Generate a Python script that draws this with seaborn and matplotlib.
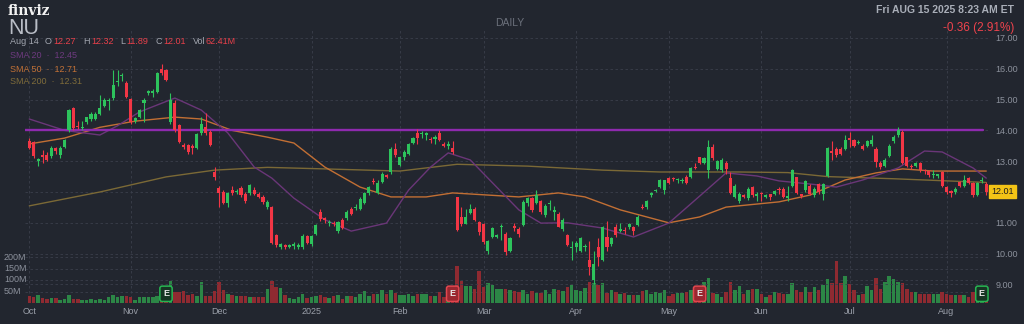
import matplotlib
matplotlib.use("Agg")
import matplotlib.pyplot as plt
import matplotlib.transforms as mtrans
import numpy as np
import pandas as pd
import seaborn as sns

# ---------------- data ----------------
opens = [13.65, 13.62, 13.02, 13.20, 13.20, 13.17, 13.43, 13.20, 13.46, 14.00,
         14.73, 14.15, 14.08, 14.27, 14.37, 14.37, 14.53, 14.80, 14.95, 15.05,
         15.58, 15.75, 15.54, 15.02, 14.30, 14.45, 14.90, 15.22, 15.22, 15.25,
         16.00, 15.96, 14.27, 14.90, 14.17, 13.52, 13.52, 13.50, 13.43, 13.90,
         14.10, 13.95, 12.65, 12.13, 12.00, 11.64, 12.05, 12.00, 12.13, 11.95,
         11.97, 12.05, 11.92, 11.85, 11.50, 11.50, 10.60, 10.20, 10.28, 10.22,
         10.25, 10.22, 10.20, 10.57, 10.30, 10.64, 11.35, 11.15, 11.00, 11.00,
         10.73, 11.10, 11.15, 11.45, 11.48, 11.45, 11.64, 11.97, 12.37, 11.97,
         12.32, 12.55, 12.65, 13.40, 12.88, 13.13, 13.22, 13.60, 13.90, 13.88,
         13.85, 13.72, 13.72, 13.90, 13.55, 13.50, 13.43, 11.83, 11.20, 10.97,
         11.32, 11.45, 11.03, 10.96, 10.10, 10.54, 10.55, 10.85, 10.64, 10.10,
         10.90, 10.80, 10.93, 11.65, 11.80, 11.65, 11.70, 11.25, 11.60, 11.35,
         11.30, 10.80, 10.60, 10.18, 10.20, 10.10, 10.20, 9.80, 9.15, 10.20,
         9.80, 10.54, 10.30, 10.85, 10.75, 10.78, 10.85, 10.85, 10.93, 11.52,
         11.50, 11.90, 12.03, 12.16, 12.05, 12.45, 12.45, 12.38, 12.35, 12.50,
         12.49, 12.82, 13.13, 12.95, 12.70, 13.46, 12.75, 12.70, 12.95, 12.45,
         11.85, 11.70, 11.90, 11.80, 12.15, 11.88, 11.97, 11.85, 11.92, 11.95,
         12.10, 12.10, 11.82, 12.20, 12.49, 11.92, 12.05, 12.20, 11.90, 12.25,
         11.95, 12.52, 13.32, 13.40, 13.40, 13.40, 13.75, 13.70, 13.60, 13.50,
         13.50, 13.55, 13.40, 12.95, 12.85, 13.17, 13.65, 13.85, 13.95, 13.13,
         12.85, 12.85, 12.95, 12.72, 12.68, 12.55, 12.52, 12.65, 12.16, 12.02,
         12.00, 12.32, 12.20, 12.45, 12.30, 11.90, 12.35, 12.27]
highs = [13.75, 13.65, 13.10, 13.35, 13.30, 13.50, 13.45, 13.48, 13.72, 14.70,
         14.75, 14.30, 14.30, 14.45, 14.60, 14.60, 15.15, 15.05, 15.05, 15.96,
         15.96, 15.85, 15.60, 15.05, 14.45, 14.70, 15.05, 15.32, 15.35, 15.90,
         16.15, 16.00, 15.20, 15.00, 14.20, 13.60, 13.55, 13.55, 13.90, 14.45,
         14.55, 14.00, 12.80, 12.20, 12.05, 12.00, 12.20, 12.10, 12.20, 12.00,
         12.25, 12.15, 12.00, 11.90, 11.75, 11.55, 10.65, 10.35, 10.30, 10.32,
         10.38, 10.35, 10.65, 10.60, 10.60, 10.95, 11.45, 11.20, 11.10, 11.05,
         11.05, 11.15, 11.40, 11.50, 11.60, 11.85, 12.00, 12.20, 12.45, 12.38,
         12.65, 12.60, 13.45, 13.60, 13.15, 13.35, 13.60, 13.80, 14.05, 13.98,
         13.95, 13.80, 13.85, 14.00, 13.62, 13.65, 13.65, 11.85, 11.50, 11.45,
         11.60, 11.50, 11.05, 11.00, 10.45, 10.85, 10.65, 10.95, 10.70, 10.55,
         11.00, 10.85, 11.75, 11.85, 11.85, 12.05, 11.75, 11.60, 11.75, 11.55,
         11.35, 11.15, 10.65, 10.40, 10.40, 10.55, 10.30, 10.40, 10.10, 10.50,
         10.90, 11.05, 10.55, 10.95, 11.00, 10.85, 11.00, 10.90, 11.25, 11.60,
         11.75, 12.00, 12.10, 12.42, 12.40, 12.50, 12.50, 12.47, 12.45, 12.55,
         12.80, 12.95, 13.15, 13.15, 13.70, 13.55, 13.05, 13.10, 13.00, 12.65,
         12.25, 12.00, 11.95, 12.15, 12.20, 12.00, 12.00, 11.95, 11.95, 12.08,
         12.15, 12.15, 12.20, 12.75, 12.50, 11.95, 12.40, 12.25, 12.15, 12.30,
         12.30, 13.45, 13.65, 13.45, 13.45, 13.85, 13.95, 13.72, 13.68, 13.55,
         13.70, 13.85, 13.45, 13.00, 13.10, 13.55, 13.85, 14.10, 14.00, 13.15,
         12.90, 12.97, 12.97, 12.75, 12.70, 12.70, 12.60, 12.68, 12.20, 12.05,
         12.15, 12.35, 12.55, 12.50, 12.32, 12.32, 12.48, 12.32]
lows = [13.40, 13.10, 12.85, 12.95, 13.00, 13.10, 13.25, 13.10, 13.42, 13.95,
        14.00, 14.05, 14.00, 14.20, 14.30, 14.35, 14.50, 14.75, 14.65, 15.00,
        15.45, 15.60, 15.05, 14.20, 14.25, 14.40, 14.27, 15.15, 15.10, 15.20,
        15.80, 15.60, 14.20, 13.95, 13.60, 13.40, 13.25, 13.25, 13.40, 13.85,
        13.85, 13.50, 12.40, 11.50, 11.60, 11.50, 11.90, 11.95, 11.85, 11.65,
        11.90, 11.90, 11.80, 11.60, 11.45, 10.30, 10.20, 10.15, 10.15, 10.18,
        10.15, 10.15, 10.15, 10.30, 10.25, 10.60, 11.05, 11.00, 10.90, 10.90,
        10.68, 10.80, 11.10, 11.25, 11.40, 11.40, 11.60, 11.90, 12.25, 11.95,
        12.30, 12.45, 12.60, 13.15, 12.85, 13.05, 13.20, 13.55, 13.55, 13.75,
        13.70, 13.60, 13.55, 13.65, 13.45, 13.40, 13.25, 10.75, 10.90, 10.95,
        11.30, 11.05, 10.60, 10.30, 10.00, 10.50, 10.50, 10.45, 9.95, 10.05,
        10.75, 10.55, 10.90, 11.55, 11.35, 11.60, 11.30, 11.20, 11.40, 11.10,
        10.85, 10.75, 10.25, 9.80, 10.05, 10.05, 10.10, 9.30, 9.00, 9.60,
        9.75, 10.10, 10.25, 10.55, 10.70, 10.65, 10.80, 10.60, 10.90, 11.45,
        11.45, 11.85, 12.00, 12.12, 11.95, 12.25, 12.35, 12.30, 12.30, 12.25,
        12.45, 12.75, 12.90, 12.90, 12.45, 13.05, 12.70, 12.65, 12.60, 11.95,
        11.80, 11.65, 11.80, 11.75, 11.85, 11.70, 11.70, 11.80, 11.75, 11.90,
        11.95, 11.80, 11.70, 12.15, 11.95, 11.80, 12.00, 11.90, 11.85, 11.95,
        11.75, 12.50, 13.05, 13.15, 13.20, 13.35, 13.45, 13.45, 13.55, 13.35,
        13.45, 13.50, 12.80, 12.75, 12.80, 13.15, 13.60, 13.80, 12.90, 12.80,
        12.75, 12.80, 12.65, 12.60, 12.50, 12.45, 12.45, 12.15, 11.95, 11.85,
        11.95, 12.15, 12.15, 12.25, 11.85, 11.88, 12.30, 11.89]
closes = [13.43, 13.17, 13.06, 13.15, 13.05, 13.43, 13.32, 13.43, 13.70, 14.66,
          14.08, 14.10, 14.12, 14.43, 14.53, 14.53, 14.73, 15.00, 15.00, 15.47,
          15.62, 15.80, 15.08, 14.27, 14.40, 14.66, 15.00, 15.27, 15.27, 15.86,
          15.86, 15.63, 15.00, 14.00, 13.62, 13.47, 13.30, 13.42, 13.88, 14.20,
          13.90, 13.52, 12.49, 11.97, 11.64, 11.97, 11.98, 12.03, 11.90, 11.70,
          12.22, 11.95, 11.85, 11.68, 11.68, 10.34, 10.28, 10.30, 10.22, 10.27,
          10.30, 10.27, 10.57, 10.35, 10.57, 10.93, 11.12, 11.10, 11.03, 10.96,
          11.03, 10.84, 11.35, 11.30, 11.52, 11.77, 11.97, 12.16, 12.32, 12.30,
          12.60, 12.50, 13.40, 13.20, 13.13, 13.30, 13.55, 13.75, 13.75, 13.92,
          13.90, 13.68, 13.80, 13.70, 13.50, 13.55, 13.30, 10.77, 10.96, 11.20,
          11.45, 11.10, 10.70, 10.37, 10.40, 10.83, 10.60, 10.88, 10.05, 10.50,
          10.83, 10.65, 11.68, 11.80, 11.40, 11.90, 11.35, 11.55, 11.65, 11.40,
          10.87, 11.10, 10.28, 10.22, 10.35, 10.50, 10.25, 9.57, 9.66, 9.90,
          10.86, 10.20, 10.50, 10.60, 10.80, 10.72, 10.97, 10.75, 11.20, 11.48,
          11.70, 11.97, 12.07, 12.39, 12.39, 12.30, 12.42, 12.42, 12.40, 12.30,
          12.78, 12.78, 12.95, 13.10, 13.46, 13.10, 13.00, 13.05, 12.75, 11.97,
          12.20, 11.95, 11.85, 12.10, 11.90, 11.92, 11.92, 11.90, 11.85, 12.02,
          12.05, 11.85, 11.87, 12.71, 11.97, 11.87, 12.35, 11.95, 12.10, 12.00,
          12.25, 13.43, 13.28, 13.20, 13.25, 13.70, 13.70, 13.50, 13.63, 13.40,
          13.65, 13.70, 12.98, 12.80, 13.05, 13.50, 13.78, 14.00, 12.95, 12.85,
          12.80, 12.95, 12.70, 12.68, 12.55, 12.60, 12.57, 12.20, 12.00, 11.98,
          12.10, 12.20, 12.40, 12.30, 11.90, 12.30, 12.40, 12.01]
volumes_m = [30, 26, 34, 23, 19, 23, 23, 12, 19, 33, 19, 19, 12, 15, 19, 12, 19, 12, 26, 34, 26, 30, 30,
             26, 15, 26, 26, 26, 26, 30, 30, 33,
             97, 48, 48, 52, 33, 41, 30, 92, 30, 30, 52, 92, 55, 41, 33, 30, 30, 30, 26, 26, 26, 26,
             60, 97, 70, 67, 33, 23, 19, 26, 41, 23, 26, 30, 33, 26, 22, 30, 33, 19, 30, 30, 26, 37,
             52, 30, 38, 41, 55, 37, 55, 44, 33, 33, 38, 30, 37, 41, 41, 30, 30, 48, 26, 30, 35,
             159, 95, 73, 73, 60, 137, 70, 85, 77, 60, 60, 63, 55, 52, 48, 55, 37, 52, 44, 44, 55, 41,
             60, 55, 52, 70, 80, 55, 52, 67, 92, 85, 77, 85, 44, 55, 48,
             41, 44, 34, 34, 34, 52, 55, 41, 48, 44, 55,
             30, 41, 44, 44, 48, 55, 37, 41, 92, 110, 44, 37, 26, 48, 91, 55, 73, 37, 55, 60, 60, 41,
             26, 34, 48, 44, 41, 41, 85, 55, 48, 70, 48, 70, 58, 80, 103, 85, 181, 88, 117, 82, 58, 34,
             41, 73, 55, 107, 63, 92, 118, 103, 92, 88, 63, 48, 48, 37, 41, 37, 41, 37, 48, 41, 34, 33,
             33, 33, 26, 48, 37, 33, 62]

month_idx = [0, 23, 43, 64, 84, 103, 124, 145, 166, 186, 208]
month_labels = ["Oct", "Nov", "Dec", "2025", "Feb", "Mar", "Apr", "May", "Jun", "Jul", "Aug"]
price_ticks = [9, 10, 11, 12, 13, 14, 15, 16, 17]
vol_ticks = [50, 100, 150, 200]
vol_tick_labels = ["50M", "100M", "150M", "200M"]

sma20_idx = [0, 8, 16, 20, 25, 33, 39, 45, 51, 55, 60, 67, 73, 81, 86, 91, 95, 100, 104, 111,
             116, 122, 130, 137, 145, 151, 158, 165, 170, 177, 183, 189, 197, 203, 207, 214, 217]
sma20_val = [14.37, 14.0, 13.85, 14.15, 14.6, 15.05, 14.66, 13.92, 12.81, 12.45, 11.8, 11.1, 10.73,
             10.99, 12.06, 12.81, 13.27, 13.04, 12.45, 11.42, 10.99, 11.0, 10.83, 10.54, 10.99, 11.74,
             12.62, 12.52, 12.36, 12.26, 12.16, 12.39, 12.78, 13.33, 13.3, 12.78, 12.45]
sma50_idx = [0, 8, 16, 24, 33, 39, 46, 54, 60, 67, 75, 82, 90, 96, 111, 120, 126, 134, 145, 152,
             158, 170, 177, 185, 192, 198, 205, 217]
sma50_val = [13.56, 13.75, 14.1, 14.3, 14.43, 14.37, 14.0, 13.78, 13.59, 12.81, 12.16, 11.84, 11.84,
             11.97, 11.84, 11.97, 11.84, 11.42, 11.0, 11.19, 11.51, 11.68, 11.9, 12.39, 12.62, 12.75,
             12.68, 12.68]
sma200_idx = [0, 16, 31, 42, 54, 67, 84, 97, 113, 130, 143, 161, 172, 181, 196, 217]
sma200_val = [11.55, 12.0, 12.49, 12.71, 12.8, 12.75, 12.68, 12.9, 12.84, 12.71, 12.65, 12.65, 12.63,
              12.5, 12.43, 12.31]

resistance_level = 14.0
earnings_idx = [31, 96, 152, 216]
earnings_kind = ["up", "down", "down", "up"]

# ---------------- style ----------------
BG = "#22262f"
GRID = "#3a3f4b"
TXT = "#8c919c"
UP = "#2dc35c"
DOWN = "#f23645"
VUP = "#2c8646"
VDOWN = "#8f2a31"

sns.set_theme(style="dark", rc={
    "axes.facecolor": BG, "figure.facecolor": BG, "savefig.facecolor": BG,
    "axes.edgecolor": BG, "text.color": TXT, "xtick.color": TXT, "ytick.color": TXT,
})
plt.rcParams["font.family"] = ["Liberation Sans", "DejaVu Sans"]

W, H = 1024, 324
fig = plt.figure(figsize=(W / 100, H / 100), dpi=100)
L, R, T, B = 25, 990, 30, 303
ax = fig.add_axes([L / W, 1 - B / H, (R - L) / W, (B - T) / H])
ax2 = ax.twinx()
ax.set_zorder(ax2.get_zorder() + 1)
ax.patch.set_visible(False)
ax2.patch.set_facecolor(BG)

df = pd.DataFrame({"o": opens, "h": highs, "l": lows, "c": closes, "v": volumes_m})
df["i"] = np.arange(len(df))
up = df["c"] >= df["o"]

# price scale
px_per_dollar = 30.8
ax.set_ylim(17 - (B - 38) / px_per_dollar, 17 + (38 - T) / px_per_dollar)
step = 4.41
x0 = 29.3
ax.set_xlim((L - x0) / step, (R - x0) / step)

# volume scale
ax2.set_ylim(0, 200 * (B - T) / 46.0)
ax2.set_yticks([])
for v in vol_ticks:
    ax2.axhline(v, color=GRID, lw=0.6, ls=(0, (3, 3)), zorder=0)
for m in month_idx:
    ax2.axvline(m, color=GRID, lw=0.6, ls=(0, (3, 3)), zorder=0)
ax2.bar(df["i"], df["v"], width=0.8, color=np.where(up, VUP, VDOWN), zorder=1, linewidth=0)

# price grid
for p in price_ticks:
    ax.axhline(p, color=GRID, lw=0.6, ls=(0, (3, 3)), zorder=0)

# moving averages and resistance line
sns.lineplot(x=sma200_idx, y=sma200_val, ax=ax, color="#7b6936", lw=1.0, zorder=2, estimator=None)
sns.lineplot(x=sma50_idx, y=sma50_val, ax=ax, color="#c26f34", lw=1.0, zorder=2, estimator=None)
sns.lineplot(x=sma20_idx, y=sma20_val, ax=ax, color="#6a3678", lw=1.0, zorder=2, estimator=None)
ax.axhline(resistance_level, xmin=0, xmax=(983 - L) / (R - L), color="#8e2aae", lw=1.7, zorder=2)

# candles
ax.vlines(df["i"], df["l"], df["h"], colors=np.where(up, UP, DOWN), lw=0.8, zorder=3)
body_lo = np.minimum(df["o"], df["c"])
body_h = np.maximum(np.abs(df["c"] - df["o"]), 0.025)
ax.bar(df["i"], body_h, bottom=body_lo, width=0.7, color=np.where(up, UP, DOWN), zorder=4, linewidth=0)

# earnings markers
for ei, kind in zip(earnings_idx, earnings_kind):
    fc, ec = ("#173524", "#27b552") if kind == "up" else ("#9a2730", "#e2474f")
    ax2.text(ei, 40, "E", ha="center", va="center", fontsize=6.5, fontweight="bold",
             color="#e8e8e8", zorder=6,
             bbox=dict(boxstyle="round,pad=0.35,rounding_size=0.25", fc=fc, ec=ec, lw=1.1))

# axes ticks (the 12.00 label is hidden under the last-price tag in the reference)
ax.yaxis.tick_right()
ax.set_yticks(price_ticks)
ax.set_yticklabels(["" if p == 12 else f"{p:.2f}" for p in price_ticks], fontsize=6.5, color=TXT)
ax.set_xticks(month_idx)
ax.set_xticklabels(month_labels, fontsize=6.5, color="#9a9fa9")
ax.tick_params(axis="both", length=0, pad=3)
ax.tick_params(axis="y", pad=4)
ax.set_xlabel("")
ax.set_ylabel("")
for s in list(ax.spines.values()) + list(ax2.spines.values()):
    s.set_visible(False)
ax.grid(False)
ax2.grid(False)

# volume labels on the left
btr = mtrans.blended_transform_factory(fig.transFigure, ax2.transData)
for v, lab in zip(vol_ticks, vol_tick_labels):
    fig.text(4 / W, v, lab, transform=btr, fontsize=6.5, color=TXT, ha="left", va="center")

# last price tag
btr2 = mtrans.blended_transform_factory(ax.transAxes, ax.transData)
ax.text(1.0 + 1 / (R - L), closes[-1], f"{closes[-1]:.2f}", transform=btr2, ha="left", va="center",
        fontsize=6.5, color="#1d1d1d", zorder=10, clip_on=False,
        bbox=dict(boxstyle="square,pad=0.25", fc="#f3c316", ec="#f3c316"))

# header texts
def ftxt(x, y, s, **kw):
    fig.text(x / W, 1 - y / H, s, **kw)

ftxt(8, 11, "finviz", fontsize=10, fontweight="bold", color="#f2f2f2", va="center",
     family=["DejaVu Serif"])
ftxt(8, 28, "NU", fontsize=15.5, color="#b9bdc6", va="center")
ftxt(510, 23, "DAILY", fontsize=7.5, color="#6c717c", va="center", ha="center")
ftxt(1014, 10, "Fri AUG 15 2025 8:23 AM ET", fontsize=7.5, color="#a9aeb8", va="center", ha="right",
     fontweight="bold")
ftxt(1014, 28, "-0.36 (2.91%)", fontsize=8.5, color="#f0434d", va="center", ha="right")

RED_T = "#e8404a"
hdr_y = 42
ftxt(10, hdr_y, "Aug 14", fontsize=6.5, color="#a2a6b0", va="center")
for lx, lab, vx, val in [(45, "O", 53, f"{opens[-1]:.2f}"), (83, "H", 91, f"{highs[-1]:.2f}"),
                         (120, "L", 126, f"{lows[-1]:.2f}"), (156, "C", 163, f"{closes[-1]:.2f}"),
                         (193, "Vol", 205, "62.41M")]:
    ftxt(lx, hdr_y, lab, fontsize=6.5, color="#a2a6b0", va="center")
    ftxt(vx, hdr_y, val, fontsize=6.5, color=RED_T, va="center")

ftxt(10, 55, f"SMA 20  \u00b7  {sma20_val[-1]:.2f}", fontsize=6.5, color="#6e3a80", va="center")
ftxt(10, 69, f"SMA 50  \u00b7  {sma50_val[-1] + 0.03:.2f}", fontsize=6.5, color="#c27136", va="center")
ftxt(10, 82, f"SMA 200  \u00b7  {sma200_val[-1]:.2f}", fontsize=6.5, color="#7f6c3a", va="center")

fig.savefig("out.png", dpi=100, facecolor=BG)
